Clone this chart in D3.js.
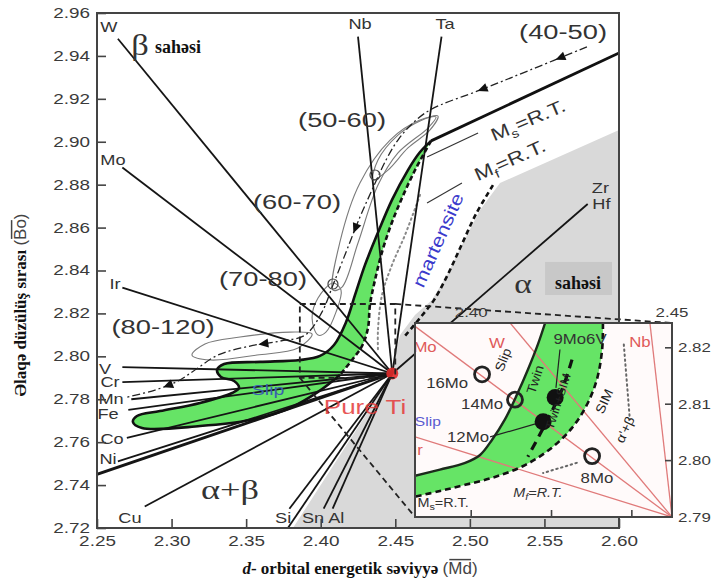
<!DOCTYPE html>
<html><head><meta charset="utf-8">
<script src="https://cdn.jsdelivr.net/npm/d3@7"></script>
<style>body{margin:0;background:#fff}svg{display:block}</style>
</head><body>
<svg id="c" width="713" height="587"></svg>
<script>
// ---------------- DATA ----------------
const xTickValues = [2.25, 2.30, 2.35, 2.40, 2.45, 2.50, 2.55, 2.60];
const yTickValues = [2.72, 2.74, 2.76, 2.78, 2.80, 2.82, 2.84, 2.86, 2.88, 2.90, 2.92, 2.94, 2.96];
const pureTi = [2.448, 2.792];
// element vectors: far end of each line (Md, Bo); every line runs to pure Ti
const elementRays = [
  ["W", 2.264, 2.948], ["Mo", 2.267, 2.888], ["Ir", 2.267, 2.832], ["V", 2.267, 2.795],
  ["Cr", 2.267, 2.788], ["Mn", 2.273, 2.780], ["Fe", 2.271, 2.775], ["Co", 2.270, 2.762],
  ["Ni", 2.264, 2.751], ["Ni", 2.250, 2.745], ["Cu", 2.282, 2.730], ["Si", 2.379, 2.729],
  ["Si", 2.378, 2.720], ["Sn", 2.402, 2.729], ["Al", 2.408, 2.729], ["Nb", 2.425, 2.949],
  ["Ta", 2.481, 2.949], ["Zr", 2.579, 2.871]
];
const elementLabels = [
  ["W", 2.2580, 2.9535], ["Mo", 2.2607, 2.8915], ["Ir", 2.2621, 2.8337], ["V", 2.2554, 2.7941],
  ["Cr", 2.2587, 2.7880], ["Mn", 2.2594, 2.7801], ["Fe", 2.2574, 2.7731], ["Co", 2.2601, 2.7615],
  ["Ni", 2.2574, 2.7522], ["Cu", 2.2721, 2.7247], ["Si", 2.3748, 2.7247], ["Sn", 2.3949, 2.7247],
  ["Al", 2.4104, 2.7247], ["Nb", 2.4264, 2.9549], ["Ta", 2.4834, 2.9549], ["Zr", 2.5875, 2.8784],
  ["Hf", 2.5882, 2.8710]
];
const msBoundary = [[2.600, 2.9414], [2.4740, 2.9004]];
const greenLeft = [
  [2.4740, 2.9004], [2.4666, 2.8952], [2.4585, 2.8868], [2.4478, 2.8729], [2.4377, 2.8565],
  [2.4297, 2.8426], [2.4230, 2.8286], [2.4170, 2.8160], [2.4089, 2.8053], [2.3995, 2.8002],
  [2.3861, 2.7983], [2.3593, 2.7974], [2.3352, 2.7964], [2.3305, 2.7936], [2.3331, 2.7904],
  [2.3419, 2.7885], [2.3452, 2.7852], [2.3405, 2.7829], [2.3191, 2.7783], [2.2922, 2.7745],
  [2.2768, 2.7722], [2.2741, 2.7694], [2.2802, 2.7666], [2.3191, 2.7675], [2.3526, 2.7703],
  [2.3794, 2.7759], [2.3982, 2.7834], [2.4129, 2.7913]
];
const greenRight = [
  [2.4740, 2.9004], [2.4706, 2.8962], [2.4626, 2.8859], [2.4545, 2.8738], [2.4471, 2.8612],
  [2.4411, 2.8486], [2.4364, 2.8356], [2.4330, 2.8239], [2.4317, 2.8132], [2.4277, 2.8048],
  [2.4210, 2.7983], [2.4129, 2.7913]
];
const alphaRegion = [
  [2.6000, 2.9055], [2.5202, 2.8808], [2.5068, 2.8682], [2.4947, 2.8519], [2.4847, 2.8379],
  [2.4746, 2.8263], [2.4632, 2.8193], [2.4532, 2.8099], [2.4498, 2.8006], [2.4485, 2.7922],
  [2.3814, 2.7200], [2.6000, 2.7200]
];
const mfLine = [
  [2.5155, 2.8798], [2.5041, 2.8663], [2.4941, 2.8514], [2.4847, 2.8374], [2.4760, 2.8263],
  [2.4666, 2.8179], [2.4565, 2.8095]
];
const dottedLine = [
  [2.4666, 2.8752], [2.4565, 2.8565], [2.4478, 2.8426], [2.4411, 2.8286], [2.4384, 2.8123], [2.4384, 2.8030]
];
const trajectory = [
  [2.5785, 2.9442], [2.5403, 2.9334], [2.5088, 2.9246], [2.4733, 2.9148], [2.4612, 2.9083],
  [2.4518, 2.9008], [2.4438, 2.8915], [2.4344, 2.8775], [2.4263, 2.8649], [2.4149, 2.8449],
  [2.4082, 2.8332], [2.4009, 2.8207], [2.3895, 2.8099], [2.3727, 2.8071], [2.3526, 2.8048],
  [2.3311, 2.8006], [2.3177, 2.7946], [2.3043, 2.7885], [2.2889, 2.7843], [2.2701, 2.7810]
];
const trajectoryArrows = [0.045, 0.18, 0.5, 0.76, 0.93];
const trajectoryCircles = [[2.4364, 2.8845], [2.4082, 2.8337]];
const loopA = [[2.4082, 2.8309], [2.4129, 2.8533], [2.4263, 2.8808], [2.4465, 2.9008], [2.4666, 2.9101],
  [2.4773, 2.9115], [2.4719, 2.9064], [2.4518, 2.8948], [2.4384, 2.8798], [2.4250, 2.8528], [2.4143, 2.8323]];
const loopB = [[2.4351, 2.8822], [2.4384, 2.8915], [2.4518, 2.9031], [2.4666, 2.9097], [2.4786, 2.9120],
  [2.4733, 2.9055], [2.4585, 2.8971], [2.4451, 2.8868]];
const loopC = [[2.3982, 2.8099], [2.3942, 2.8179], [2.3982, 2.8272], [2.4082, 2.8342], [2.4136, 2.8309],
  [2.4103, 2.8207], [2.4035, 2.8113]];
const loopD = [[2.3137, 2.8006], [2.3224, 2.8058], [2.3459, 2.8090], [2.3794, 2.8113], [2.3942, 2.8104],
  [2.3848, 2.8039], [2.3573, 2.8006], [2.3258, 2.7983]];
const loops = [loopA, loopB, loopC, loopD];
const rangeLabels = [["(40-50)", 2.5625, 2.9512], ["(50-60)", 2.4143, 2.9101], ["(60-70)", 2.3841, 2.8719],
  ["(70-80)", 2.3613, 2.8360], ["(80-120)", 2.2943, 2.8137]];
const msPointer = [[2.4713, 2.8929], [2.5055, 2.9041]];
const mfPointer = [[2.4713, 2.8715], [2.4947, 2.8808]];
const msLabelPos = [2.5390, 2.9101];
const mfLabelPos = [2.5269, 2.8915];
const martensitePos = [2.4786, 2.8542];
const betaPos = [2.2788, 2.9451], betaWordPos = [2.2889, 2.9442];
const alphaPos = [2.5356, 2.8342], alphaWordPos = [2.5725, 2.8342];
const alphaBox = [[2.5504, 2.8286], [2.5953, 2.8440]];
const alphaBetaPos = [2.3392, 2.7382];
const pureTiLabelPos = [2.4297, 2.7764];
const slipMainPos = [2.3647, 2.7843];

// inset (magnified region near pure Ti)
const insetX = [2.386, 2.45], insetY = [2.79, 2.8244];
const insetTi = [2.45, 2.79];
const insetTicksRight = [2.79, 2.80, 2.81, 2.82];
const insetTicksTop = [2.40, 2.45];
const insetTicksBottom = [2.40, 2.42, 2.44];
const insetRays = [["Mo", 2.386, 2.8238], ["W", 2.4097, 2.8244], ["Nb", 2.4445, 2.8244], ["Ir", 2.386, 2.8042]];
const insetGreenLeft = [[2.4184, 2.8244], [2.4166, 2.8206], [2.4141, 2.8161], [2.4114, 2.8117], [2.4084, 2.8073],
  [2.4052, 2.8037], [2.4022, 2.8010], [2.3985, 2.7996], [2.3922, 2.7984], [2.3860, 2.7973]];
const insetGreenRight = [[2.4328, 2.8244], [2.4326, 2.8197], [2.4313, 2.8144], [2.4288, 2.8099], [2.4251, 2.8058],
  [2.4201, 2.8023], [2.4134, 2.7992], [2.4059, 2.7971], [2.3985, 2.7957], [2.3922, 2.7946], [2.3860, 2.7936]];
const insetTwinBoundary = [[2.4251, 2.8179], [2.4226, 2.8126], [2.4184, 2.8064], [2.4141, 2.8007]];
const insetOpenCircles = [[2.4027, 2.8153], [2.4109, 2.8108], [2.4301, 2.8008]];
const insetFilledCircles = [[2.4179, 2.8069], [2.4209, 2.8112]];
const insetRedLabels = [["Mo", 2.3885, 2.8202], ["W", 2.4064, 2.8209], ["Nb", 2.4420, 2.8211], ["Ir", 2.3867, 2.8019]];
const insetAlloyLabels = [["16Mo", 2.3940, 2.8138], ["14Mo", 2.4027, 2.8101], ["12Mo", 2.3992, 2.8042], ["8Mo", 2.4313, 2.7969], ["9Mo6V", 2.4271, 2.8215]];
const insetPointers = [[[2.4047, 2.8042], [2.4179, 2.8069]], [[2.4221, 2.8197], [2.4211, 2.8129]]];
const insetDotted = [[[2.4380, 2.8206], [2.4395, 2.8073]], [[2.4263, 2.7996], [2.4179, 2.7978]]];
const insetRotLabels = [["Slip", 2.4079, 2.8179, -68, 13], ["Twin", 2.4159, 2.8144, -72, 13],
  ["Twin+SIM", 2.4216, 2.8105, -72, 12], ["SIM", 2.4331, 2.8105, -65, 13], ["α'+β", 2.4383, 2.8055, -65, 13]];
const insetSlipPos = [2.3892, 2.8069];
const insetMsPos = [2.3930, 2.7925], insetMfPos = [2.4166, 2.7943];

// ---------------- DRAW ----------------
const svg = d3.select('#c');
const sans = 'Arial, "Liberation Sans", Helvetica, sans-serif';
const serif = '"Times New Roman", "Liberation Serif", serif';
const x = d3.scaleLinear().domain([2.25, 2.60]).range([97, 619]);
const y = d3.scaleLinear().domain([2.72, 2.96]).range([528, 13]);
const xi = d3.scaleLinear().domain(insetX).range([415, 672]);
const yi = d3.scaleLinear().domain(insetY).range([517, 323]);

const lin = d3.line().x(d => x(d[0])).y(d => y(d[1]));
const crv = d3.line().x(d => x(d[0])).y(d => y(d[1])).curve(d3.curveCatmullRom.alpha(0.5));
const crvC = d3.line().x(d => x(d[0])).y(d => y(d[1])).curve(d3.curveCatmullRomClosed.alpha(0.5));
const linI = d3.line().x(d => xi(d[0])).y(d => yi(d[1]));
const crvI = d3.line().x(d => xi(d[0])).y(d => yi(d[1])).curve(d3.curveCatmullRom.alpha(0.5));

function label(g, s, px, py, o = {}) {
  const t = g.append('text')
    .attr('transform', `translate(${px},${py}) rotate(${o.rot || 0}) scale(${o.sx == null ? 1.3 : o.sx},1)`)
    .attr('text-anchor', o.anchor || 'middle')
    .attr('dy', '0.35em')
    .attr('fill', o.fill || '#333')
    .style('font-family', o.font || sans)
    .style('font-size', (o.size || 14) + 'px')
    .style('font-weight', o.weight || 'normal')
    .style('font-style', o.italic ? 'italic' : 'normal');
  if (Array.isArray(s)) {
    s.forEach(p => { const ts = t.append('tspan').text(p.t); if (p.dy) ts.attr('dy', p.dy); if (p.size) ts.style('font-size', p.size + 'px'); });
  } else t.text(s);
  return t;
}

svg.append('rect').attr('width', 713).attr('height', 587).attr('fill', '#fff');
const defs = svg.append('defs');
defs.append('clipPath').attr('id', 'plotClip').append('rect')
  .attr('x', x(2.25)).attr('y', y(2.96)).attr('width', x(2.60) - x(2.25)).attr('height', y(2.72) - y(2.96));
defs.append('clipPath').attr('id', 'insetClip').append('rect')
  .attr('x', xi(insetX[0])).attr('y', yi(insetY[1])).attr('width', xi(insetX[1]) - xi(insetX[0])).attr('height', yi(insetY[0]) - yi(insetY[1]));

const g = svg.append('g').attr('clip-path', 'url(#plotClip)');

// alpha region (grey)
g.append('path').attr('d', lin(alphaRegion) + 'Z').attr('fill', '#d9d9d9');
g.append('rect').attr('x', x(alphaBox[0][0])).attr('y', y(alphaBox[1][1]))
  .attr('width', x(alphaBox[1][0]) - x(alphaBox[0][0])).attr('height', y(alphaBox[0][1]) - y(alphaBox[1][1]))
  .attr('fill', '#c8c8c8');

// green region
const greenD = crv(greenLeft) + 'L' + crv(greenRight.slice().reverse()).slice(1) + 'Z';
g.append('path').attr('d', greenD).attr('fill', '#66e466');

// dotted line
g.append('path').attr('d', crv(dottedLine)).attr('fill', 'none').attr('stroke', '#8a8a8a')
  .attr('stroke-width', 2).attr('stroke-dasharray', '1.5,3.5').attr('stroke-linecap', 'round');

// loops
loops.forEach(lp => g.append('path').attr('d', crvC(lp)).attr('fill', 'none').attr('stroke', '#7a7a7a').attr('stroke-width', 1.1));

// element rays
elementRays.forEach(r => {
  g.append('line').attr('x1', x(r[1])).attr('y1', y(r[2])).attr('x2', x(pureTi[0])).attr('y2', y(pureTi[1]))
    .attr('stroke', '#151515').attr('stroke-width', r[1] === 2.25 ? 2.8 : 1.8);
});

// trajectory (dash-dot with arrows)
const tp = g.append('path').attr('d', crv(trajectory)).attr('fill', 'none').attr('stroke', '#222')
  .attr('stroke-width', 1.3).attr('stroke-dasharray', '8,3,2,3');
const tn = tp.node(), TL = tn.getTotalLength();
trajectoryArrows.forEach(f => {
  const p = tn.getPointAtLength(f * TL), q = tn.getPointAtLength(Math.min(TL, f * TL + 2));
  const a = Math.atan2(q.y - p.y, q.x - p.x) * 180 / Math.PI;
  g.append('path').attr('d', 'M6,0L-4,-4.5L-4,4.5Z').attr('transform', `translate(${p.x},${p.y}) rotate(${a})`).attr('fill', '#111');
});
trajectoryCircles.forEach(c => g.append('circle').attr('cx', x(c[0])).attr('cy', y(c[1])).attr('r', 5)
  .attr('fill', 'none').attr('stroke', '#444').attr('stroke-width', 1.2));

// green boundaries
g.append('path').attr('d', crv(greenLeft)).attr('fill', 'none').attr('stroke', '#111').attr('stroke-width', 2.6);
g.append('path').attr('d', crv(greenRight)).attr('fill', 'none').attr('stroke', '#111').attr('stroke-width', 2.6).attr('stroke-dasharray', '5,3');
// Ms solid line
g.append('path').attr('d', lin(msBoundary)).attr('fill', 'none').attr('stroke', '#111').attr('stroke-width', 2.8);
// Mf dashed
g.append('path').attr('d', crv(mfLine)).attr('fill', 'none').attr('stroke', '#111').attr('stroke-width', 2.6).attr('stroke-dasharray', '5,3.5');
// pointers
[msPointer, mfPointer].forEach(p => g.append('path').attr('d', lin(p)).attr('stroke', '#333').attr('stroke-width', 1.1));

// zoom box & connectors
const zb = svg.append('g').attr('fill', 'none').attr('stroke', '#222').attr('stroke-width', 1.8).attr('stroke-dasharray', '6,4');
zb.append('rect').attr('x', x(insetX[0])).attr('y', y(insetY[1])).attr('width', x(insetX[1]) - x(insetX[0])).attr('height', y(insetY[0]) - y(insetY[1]));
zb.append('line').attr('x1', x(insetX[1])).attr('y1', y(insetY[1])).attr('x2', xi(insetX[1])).attr('y2', yi(insetY[1]));
zb.append('line').attr('x1', x(insetX[0])).attr('y1', y(insetY[0])).attr('x2', xi(insetX[0])).attr('y2', yi(insetY[0]));

// pure Ti
g.append('circle').attr('cx', x(pureTi[0])).attr('cy', y(pureTi[1])).attr('r', 6).attr('fill', '#e32b2b').attr('opacity', 0.9);

// labels
const lg = svg.append('g');
elementLabels.forEach(l => label(lg, l[0], x(l[1]), y(l[2]), { size: 14, fill: '#333' }));
rangeLabels.forEach(l => label(lg, l[0], x(l[1]), y(l[2]), { size: 21, fill: '#333' }));
label(lg, [{ t: 'M' }, { t: 's', dy: '5px', size: 12 }, { t: '=R.T.', dy: '-5px' }], x(msLabelPos[0]), y(msLabelPos[1]), { size: 18, rot: -23, sx: 1.25 });
label(lg, [{ t: 'M' }, { t: 'f', dy: '5px', size: 12 }, { t: '=R.T.', dy: '-5px' }], x(mfLabelPos[0]), y(mfLabelPos[1]), { size: 18, rot: -24, sx: 1.25 });
label(lg, 'martensite', x(martensitePos[0]), y(martensitePos[1]), { size: 18, rot: -66, sx: 1.2, fill: '#3a3acc' });
label(lg, 'β', x(betaPos[0]), y(betaPos[1]), { font: serif, size: 30, sx: 1.15, fill: '#333' });
label(lg, 'sahəsi', x(betaWordPos[0]), y(betaWordPos[1]), { font: serif, size: 18, sx: 1, weight: 'bold', anchor: 'start', fill: '#111' });
label(lg, 'α', x(alphaPos[0]), y(alphaPos[1]), { font: serif, size: 28, sx: 1.2, fill: '#333' });
label(lg, 'sahəsi', x(alphaWordPos[0]), y(alphaWordPos[1]), { font: serif, size: 18, sx: 1, weight: 'bold', fill: '#111' });
label(lg, 'α+β', x(alphaBetaPos[0]), y(alphaBetaPos[1]), { font: serif, size: 28, sx: 1.3, fill: '#333' });
label(lg, 'Pure Ti', x(pureTiLabelPos[0]), y(pureTiLabelPos[1]), { size: 20, fill: '#e53a3a', sx: 1.3 }).attr('opacity', 0.85);
label(lg, 'Slip', x(slipMainPos[0]), y(slipMainPos[1]), { size: 15, fill: '#3a5fb0', sx: 1.3 });

// axes
const axG = svg.append('g');
const yAxis = d3.axisLeft(y).tickValues(yTickValues).tickFormat(d3.format('.2f')).tickSizeInner(-9).tickSizeOuter(0).tickPadding(7);
const xAxis = d3.axisBottom(x).tickValues(xTickValues).tickFormat(d3.format('.2f')).tickSizeInner(-9).tickSizeOuter(0).tickPadding(8);
const ya = axG.append('g').attr('transform', `translate(${x(2.25)},0)`).call(yAxis);
const xa = axG.append('g').attr('transform', `translate(0,${y(2.72)})`).call(xAxis);
[ya, xa].forEach(a => {
  a.select('.domain').remove();
  a.selectAll('line').attr('stroke', '#444').attr('stroke-width', 1.6);
  a.selectAll('text').style('font-family', sans).style('font-size', '14px').attr('fill', '#3a3a3a');
});
ya.selectAll('text').attr('x', -7 / 1.35).attr('transform', 'scale(1.35,1)');
xa.selectAll('text').attr('transform', 'scale(1.35,1)');
axG.append('rect').attr('x', x(2.25)).attr('y', y(2.96)).attr('width', x(2.60) - x(2.25)).attr('height', y(2.72) - y(2.96))
  .attr('fill', 'none').attr('stroke', '#444').attr('stroke-width', 2);

// ---------------- INSET ----------------
const ig = svg.append('g');
ig.append('rect').attr('x', xi(insetX[0])).attr('y', yi(insetY[1])).attr('width', xi(insetX[1]) - xi(insetX[0]))
  .attr('height', yi(insetY[0]) - yi(insetY[1])).attr('fill', '#fffafa');
const ic = ig.append('g').attr('clip-path', 'url(#insetClip)');
const iGreen = crvI(insetGreenLeft) + 'L' + crvI(insetGreenRight.slice().reverse()).slice(1) + 'Z';
ic.append('path').attr('d', iGreen).attr('fill', '#66e466');
insetRays.forEach(r => ic.append('line').attr('x1', xi(r[1])).attr('y1', yi(r[2])).attr('x2', xi(insetTi[0])).attr('y2', yi(insetTi[1]))
  .attr('stroke', '#e07a7a').attr('stroke-width', 1.3));
ic.append('path').attr('d', crvI(insetGreenLeft)).attr('fill', 'none').attr('stroke', '#1c2a1c').attr('stroke-width', 2.4);
ic.append('path').attr('d', crvI(insetGreenRight)).attr('fill', 'none').attr('stroke', '#111').attr('stroke-width', 2.6).attr('stroke-dasharray', '6,4');
ic.append('path').attr('d', crvI(insetTwinBoundary)).attr('fill', 'none').attr('stroke', '#111').attr('stroke-width', 3.2).attr('stroke-dasharray', '9,6');
insetDotted.forEach(d => ic.append('path').attr('d', linI(d)).attr('stroke', '#666').attr('stroke-width', 2).attr('stroke-dasharray', '1.5,3.5').attr('stroke-linecap', 'round'));
insetPointers.forEach(p => ic.append('path').attr('d', linI(p)).attr('stroke', '#222').attr('stroke-width', 1.2));
insetOpenCircles.forEach(c => ic.append('circle').attr('cx', xi(c[0])).attr('cy', yi(c[1])).attr('r', 7.5).attr('fill', 'none').attr('stroke', '#222').attr('stroke-width', 2.8));
insetFilledCircles.forEach(c => ic.append('circle').attr('cx', xi(c[0])).attr('cy', yi(c[1])).attr('r', 8.5).attr('fill', '#111'));
insetRedLabels.forEach(l => label(ic, l[0], xi(l[1]), yi(l[2]), { size: 14, fill: '#e05a5a', sx: 1.2 }));
insetAlloyLabels.forEach(l => label(ic, l[0], xi(l[1]), yi(l[2]), { size: 14, fill: '#333', sx: 1.2 }));
insetRotLabels.forEach(l => label(ic, l[0], xi(l[1]), yi(l[2]), { size: l[4], rot: l[3], fill: '#222', sx: 1.1 }));
label(ic, 'Slip', xi(insetSlipPos[0]), yi(insetSlipPos[1]), { size: 13, fill: '#5a5ad0', sx: 1.2 });
label(ic, [{ t: 'M' }, { t: 's', dy: '3px', size: 9 }, { t: '=R.T.', dy: '-3px' }], xi(insetMsPos[0]), yi(insetMsPos[1]), { size: 12, fill: '#333', sx: 1.2 });
label(ic, [{ t: 'M' }, { t: 'f', dy: '3px', size: 9 }, { t: '=R.T.', dy: '-3px' }], xi(insetMfPos[0]), yi(insetMfPos[1]), { size: 12, fill: '#333', sx: 1.2, italic: true });
ig.append('rect').attr('x', xi(insetX[0])).attr('y', yi(insetY[1])).attr('width', xi(insetX[1]) - xi(insetX[0]))
  .attr('height', yi(insetY[0]) - yi(insetY[1])).attr('fill', 'none').attr('stroke', '#444').attr('stroke-width', 2);
insetTicksRight.forEach(v => {
  ig.append('line').attr('x1', xi(insetX[1])).attr('x2', xi(insetX[1]) - 7).attr('y1', yi(v)).attr('y2', yi(v)).attr('stroke', '#444').attr('stroke-width', 1.6);
  label(ig, d3.format('.2f')(v), xi(insetX[1]) + 6, yi(v), { size: 13, anchor: 'start', sx: 1.3, fill: '#3a3a3a' });
});
insetTicksBottom.forEach(v => ig.append('line').attr('x1', xi(v)).attr('x2', xi(v)).attr('y1', yi(insetY[0])).attr('y2', yi(insetY[0]) - 7).attr('stroke', '#444').attr('stroke-width', 1.6));
insetTicksTop.forEach(v => label(ig, d3.format('.2f')(v), xi(v), yi(insetY[1]) - 11, { size: 13, sx: 1.3, fill: '#3a3a3a' }));

// ---------------- TITLES ----------------
// x title
const xt = svg.append('text').attr('x', 360).attr('y', 568).attr('text-anchor', 'middle').attr('dy', '0.35em').attr('fill', '#111');
xt.append('tspan').text('d').style('font-family', serif).style('font-weight', 'bold').style('font-style', 'italic').style('font-size', '17px');
xt.append('tspan').text('- orbital energetik səviyyə ').style('font-family', serif).style('font-weight', 'bold').style('font-size', '17px');
xt.append('tspan').text('(').style('font-family', sans).style('font-size', '17px').attr('fill', '#444');
const md = xt.append('tspan').text('Md').style('font-family', sans).style('font-size', '17px').attr('fill', '#444');
xt.append('tspan').text(')').style('font-family', sans).style('font-size', '17px').attr('fill', '#444');
const mb = md.node().getBBox();
svg.append('line').attr('x1', mb.x + 1).attr('x2', mb.x + mb.width - 1).attr('y1', mb.y + 1).attr('y2', mb.y + 1).attr('stroke', '#444').attr('stroke-width', 1.5);

// y title
const ytg = svg.append('g').attr('transform', 'translate(20,305) rotate(-90)');
const yt = ytg.append('text').attr('x', 0).attr('y', 0).attr('text-anchor', 'middle').attr('dy', '0.35em').attr('fill', '#111');
yt.append('tspan').text('Əlaqə düzülüş sırası ').style('font-family', serif).style('font-weight', 'bold').style('font-size', '17px');
yt.append('tspan').text('(').style('font-family', sans).style('font-size', '17px').attr('fill', '#444');
const bo = yt.append('tspan').text('Bo').style('font-family', sans).style('font-size', '17px').attr('fill', '#444');
yt.append('tspan').text(')').style('font-family', sans).style('font-size', '17px').attr('fill', '#444');
const bb = bo.node().getBBox();
ytg.append('line').attr('x1', bb.x + 1).attr('x2', bb.x + bb.width - 1).attr('y1', bb.y + 1).attr('y2', bb.y + 1).attr('stroke', '#444').attr('stroke-width', 1.5);
</script>
</body></html>
